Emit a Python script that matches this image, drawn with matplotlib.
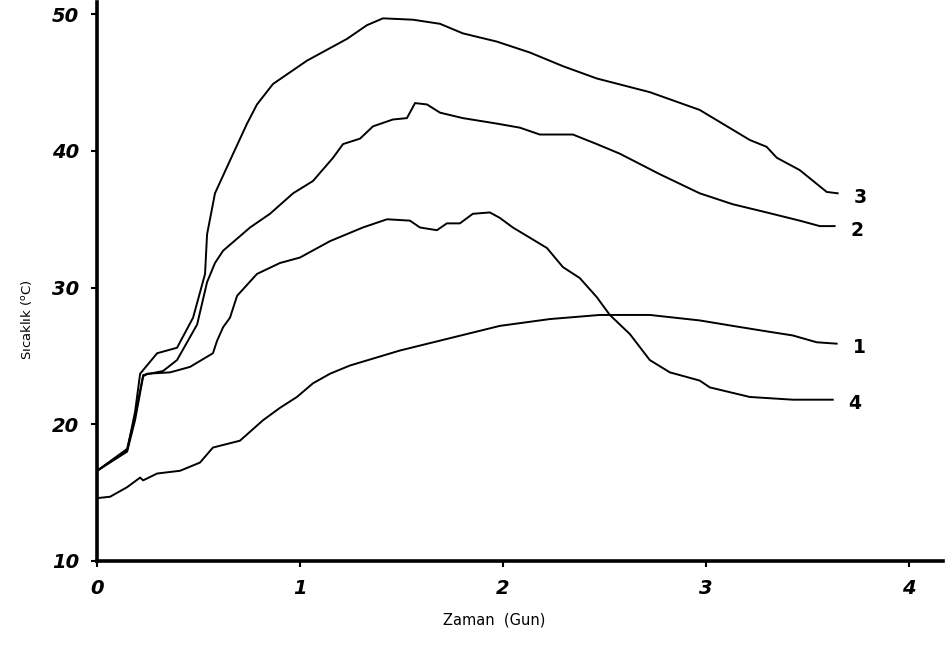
import matplotlib
matplotlib.use("Agg")
import matplotlib.pyplot as plt

# curve readings (days, temperature C)
days_1 = [0, 0.064, 0.148, 0.212, 0.227, 0.296, 0.409, 0.507, 0.571, 0.704, 0.818, 0.901, 0.985,
          1.064, 1.148, 1.246, 1.493, 1.739, 1.985, 2.232, 2.478, 2.724, 2.970, 3.133, 3.300,
          3.429, 3.547, 3.645]
temp_1 = [14.6, 14.7, 15.4, 16.1, 15.9, 16.4, 16.6, 17.2, 18.3, 18.8, 20.3, 21.2, 22.0,
          23.0, 23.7, 24.3, 25.4, 26.3, 27.2, 27.7, 28.0, 28.0, 27.6, 27.2, 26.8,
          26.5, 26.0, 25.9]

days_2 = [0, 0.148, 0.187, 0.227, 0.325, 0.394, 0.493, 0.542, 0.581, 0.621, 0.754, 0.852, 0.966,
          1.064, 1.163, 1.212, 1.296, 1.360, 1.458, 1.527, 1.567, 1.626, 1.690, 1.803, 1.970,
          2.084, 2.182, 2.345, 2.463, 2.576, 2.773, 2.970, 3.133, 3.300, 3.463, 3.562, 3.635]
temp_2 = [16.6, 18.2, 20.6, 23.6, 23.9, 24.7, 27.3, 30.4, 31.8, 32.7, 34.4, 35.4, 36.9,
          37.8, 39.5, 40.5, 40.9, 41.8, 42.3, 42.4, 43.5, 43.4, 42.8, 42.4, 42.0,
          41.7, 41.2, 41.2, 40.5, 39.8, 38.3, 36.9, 36.1, 35.5, 34.9, 34.5, 34.5]

days_3 = [0, 0.148, 0.187, 0.212, 0.296, 0.394, 0.473, 0.532, 0.542, 0.581, 0.655, 0.739, 0.788,
          0.867, 1.034, 1.232, 1.330, 1.409, 1.557, 1.690, 1.803, 1.970, 2.133, 2.296, 2.463,
          2.724, 2.970, 3.217, 3.300, 3.350, 3.463, 3.596, 3.650]
temp_3 = [16.6, 18.1, 20.9, 23.7, 25.2, 25.6, 27.8, 31.0, 33.9, 36.9, 39.3, 42.0, 43.4,
          44.9, 46.6, 48.2, 49.2, 49.7, 49.6, 49.3, 48.6, 48.0, 47.2, 46.2, 45.3,
          44.3, 43.0, 40.8, 40.3, 39.5, 38.6, 37.0, 36.9]

days_4 = [0, 0.148, 0.187, 0.227, 0.246, 0.360, 0.458, 0.571, 0.591, 0.621, 0.655, 0.690, 0.788,
          0.901, 1.0, 1.148, 1.310, 1.429, 1.542, 1.591, 1.675, 1.724, 1.788, 1.852, 1.936,
          1.985, 2.049, 2.217, 2.296, 2.379, 2.463, 2.527, 2.626, 2.724, 2.823, 2.970, 3.020,
          3.217, 3.429, 3.626]
temp_4 = [16.6, 18.0, 20.3, 23.5, 23.7, 23.8, 24.2, 25.2, 26.1, 27.1, 27.8, 29.4, 31.0,
          31.8, 32.2, 33.4, 34.4, 35.0, 34.9, 34.4, 34.2, 34.7, 34.7, 35.4, 35.5,
          35.1, 34.4, 32.9, 31.5, 30.7, 29.3, 28.0, 26.6, 24.7, 23.8, 23.2, 22.7,
          22.0, 21.8, 21.8]

curves = [("1", days_1, temp_1), ("2", days_2, temp_2), ("3", days_3, temp_3), ("4", days_4, temp_4)]
x_ticks = [0, 1, 2, 3, 4]
y_ticks = [10, 20, 30, 40, 50]

fig = plt.figure(figsize=(9.52, 6.46), dpi=100)
ax = fig.add_axes([0.102, 0.1316, 0.8887, 0.8654])

for name, d, t in curves:
    ax.plot(d, t, color="black", lw=1.4)
    ax.text(d[-1] + 0.11, t[-1] - 0.3, name, ha="center", va="center",
            fontsize=13.5, fontweight="bold")

ax.set_xlim(0, 4.17)
ax.set_ylim(10, 50.9)
ax.set_xticks(x_ticks)
ax.set_yticks(y_ticks)
for lab in ax.get_xticklabels() + ax.get_yticklabels():
    lab.set_fontweight("bold")
    lab.set_fontstyle("italic")
    lab.set_fontsize(14)
ax.tick_params(length=4, width=1.5, pad=9)

for s in ["top", "right"]:
    ax.spines[s].set_visible(False)
for s in ["left", "bottom"]:
    ax.spines[s].set_linewidth(2.6)

fig.text(494 / 952, 1 - 620 / 646, "Zaman  (Gun)", ha="center", va="center", fontsize=10.5)
fig.text(27 / 952, 1 - 320 / 646, r"Sıcaklık ($^{\mathrm{o}}$C)", ha="center", va="center",
         rotation=90, fontsize=9.5)

fig.savefig("out.png", dpi=100)
